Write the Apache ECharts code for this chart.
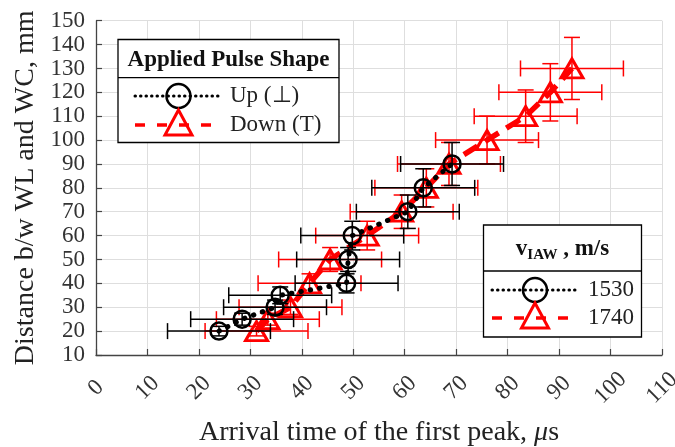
<!DOCTYPE html>
<html>
<head>
<meta charset="utf-8">
<script src="https://cdn.jsdelivr.net/npm/echarts@6/dist/echarts.min.js"></script>
<style>
  html, body { margin: 0; padding: 0; background: #fff; }
  #chart { width: 675px; height: 447px; }
</style>
</head>
<body>
<div id="chart"></div>
<script>
// Pulse applied "Up" (v = 1530 m/s)
const upDistance = [20, 25, 30, 35, 40, 50, 60, 70, 80, 90];
const upTime     = [23.9, 28.4, 34.8, 35.8, 48.7, 49.0, 49.8, 60.6, 63.6, 69.2];
const upTimeErr  = [10, 10, 10, 10, 10, 10, 10, 10, 10, 10];
const upDistErr  = [2, 2.5, 3, 3.5, 4, 5, 6, 7, 8, 9];

// Pulse applied "Down" (v = 1740 m/s)
const downDistance = [20, 25, 30, 40, 50, 60, 70, 80, 90, 100, 110, 120, 130];
const downTime     = [31.2, 33.4, 37.8, 41.5, 45.5, 52.7, 59.4, 64.2, 68.6, 76.0, 83.5, 88.3, 92.5];
const downTimeErr  = [10, 10, 10, 10, 10, 10, 10, 10, 10, 10, 10, 10, 10];
const downDistErr  = [2, 2.5, 3, 4, 5, 6, 7, 8, 9, 10, 11, 12, 13];

// Axis ticks
const xTicks = [0, 10, 20, 30, 40, 50, 60, 70, 80, 90, 100, 110];
const yTicks = [10, 20, 30, 40, 50, 60, 70, 80, 90, 100, 110, 120, 130, 140, 150];

const FONT = 'Liberation Serif';
const BLACK = '#000000';
const RED = '#ff0000';

function points(xs, ys) {
  return xs.map((x, i) => [x, ys[i]]);
}
function errRows(xs, ys, ex, ey) {
  return xs.map((x, i) => [x, ys[i], ex[i], ey[i]]);
}

// Cross-shaped error bars with end caps
function errorBarRenderer(color) {
  return function (params, api) {
    const x = api.value(0), y = api.value(1), ex = api.value(2), ey = api.value(3);
    const l = api.coord([x - ex, y]);
    const r = api.coord([x + ex, y]);
    const t = api.coord([x, y + ey]);
    const b = api.coord([x, y - ey]);
    const c = 8;
    const style = { stroke: color, lineWidth: 1.5, fill: null };
    const seg = (x1, y1, x2, y2) => ({ type: 'line', shape: { x1, y1, x2, y2 }, style });
    return {
      type: 'group',
      children: [
        seg(l[0], l[1], r[0], r[1]),
        seg(l[0], l[1] - c, l[0], l[1] + c),
        seg(r[0], r[1] - c, r[0], r[1] + c),
        seg(t[0], t[1], b[0], b[1]),
        seg(t[0] - c, t[1], t[0] + c, t[1]),
        seg(b[0] - c, b[1], b[0] + c, b[1])
      ]
    };
  };
}

// Boxed legend with a title row
function legendBox(opts) {
  const els = [];
  els.push({
    type: 'rect', shape: { x: opts.x, y: opts.y, width: opts.w, height: opts.h },
    style: { fill: '#fff', stroke: '#000', lineWidth: 1.3 }, z: 100
  });
  els.push({
    type: 'line', shape: { x1: opts.x, y1: opts.divY, x2: opts.x + opts.w, y2: opts.divY },
    style: { stroke: '#000', lineWidth: 1.3 }, z: 101
  });
  els.push({
    type: 'text', x: opts.x + opts.w / 2, y: (opts.y + opts.divY) / 2 + 1,
    style: Object.assign({
      align: 'center', verticalAlign: 'middle', fill: '#111',
      font: 'bold 23px "' + FONT + '"'
    }, opts.title), z: 102
  });
  opts.rows.forEach(row => {
    els.push({
      type: 'line', shape: { x1: opts.lx1, y1: row.y, x2: opts.lx2, y2: row.y },
      style: row.dotted
        ? { stroke: BLACK, lineWidth: 3, lineDash: [0.5, 5], lineCap: 'round' }
        : { stroke: RED, lineWidth: 3.5, lineDash: [10, 12] },
      z: 102
    });
    const cx = (opts.lx1 + opts.lx2) / 2;
    if (row.dotted) {
      els.push({
        type: 'circle', shape: { cx, cy: row.y, r: 12 },
        style: { fill: 'rgba(0,0,0,0)', stroke: BLACK, lineWidth: 2.5 }, z: 103
      });
    } else {
      els.push({
        type: 'polygon',
        shape: { points: [[cx, row.y - 15], [cx + 13.5, row.y + 10], [cx - 13.5, row.y + 10]] },
        style: { fill: 'rgba(0,0,0,0)', stroke: RED, lineWidth: 3 }, z: 103
      });
    }
    els.push({
      type: 'text', x: opts.tx, y: row.y,
      style: { text: row.text, align: 'left', verticalAlign: 'middle', fill: '#222',
               font: '23px "' + FONT + '"' },
      z: 103
    });
  });
  return els;
}

const graphics = [].concat(
  legendBox({
    x: 118, y: 39.5, w: 221, h: 103, divY: 77.7,
    title: { text: 'Applied Pulse Shape' },
    lx1: 135, lx2: 222, tx: 230,
    rows: [
      { y: 96, dotted: true, text: 'Up (\u22A5)' },
      { y: 125, dotted: false, text: 'Down (T)' }
    ]
  }),
  legendBox({
    x: 483.5, y: 225, w: 158, h: 112, divY: 271,
    title: {
      text: '{v|v}{s|IAW}{v| , m/s}',
      rich: {
        v: { font: 'bold 23px "' + FONT + '"', fill: '#111' },
        s: { font: 'bold 15px "' + FONT + '"', fill: '#111', padding: [12, 0, 0, 0] }
      }
    },
    lx1: 492, lx2: 578, tx: 588,
    rows: [
      { y: 290, dotted: true, text: '1530' },
      { y: 318, dotted: false, text: '1740' }
    ]
  })
);

const chart = echarts.init(document.getElementById('chart'), null, { renderer: 'canvas' });

chart.setOption({
  backgroundColor: '#fff',
  animation: false,
  grid: { left: 96, right: 13, top: 20.7, bottom: 92, containLabel: false, outerBoundsMode: 'none' },
  xAxis: {
    type: 'value',
    min: xTicks[0], max: xTicks[xTicks.length - 1], interval: 10,
    name: 'Arrival time of the first peak, {i|\u03BC}s',
    nameLocation: 'middle', nameGap: 64,
    nameTextStyle: {
      fontFamily: FONT, fontSize: 28, color: '#222',
      rich: { i: { fontFamily: FONT, fontSize: 28, fontStyle: 'italic', color: '#222' } }
    },
    axisLine: { show: true, lineStyle: { color: '#444', width: 1.3 } },
    axisTick: { show: true, inside: true, length: 6, lineStyle: { color: '#444', width: 1.2 } },
    axisLabel: {
      rotate: 45, align: 'center', verticalAlign: 'middle', margin: 33,
      fontFamily: FONT, fontSize: 23, color: '#333',
      showMinLabel: true, showMaxLabel: true,
      formatter: v => (xTicks.indexOf(v) >= 0 ? String(v) : '')
    },
    splitLine: { show: true, lineStyle: { color: '#dedede', width: 1 } }
  },
  yAxis: {
    type: 'value',
    min: yTicks[0], max: yTicks[yTicks.length - 1], interval: 10,
    name: 'Distance b/w WL and WC, mm',
    nameLocation: 'middle', nameGap: 56,
    nameTextStyle: { fontFamily: FONT, fontSize: 28, color: '#222' },
    axisLine: { show: true, lineStyle: { color: '#444', width: 1.3 } },
    axisTick: { show: true, inside: true, length: 6, lineStyle: { color: '#444', width: 1.2 } },
    axisLabel: {
      margin: 11, fontFamily: FONT, fontSize: 23, color: '#333',
      showMinLabel: true, showMaxLabel: true,
      formatter: v => (yTicks.indexOf(v) >= 0 ? String(v) : '')
    },
    splitLine: { show: true, lineStyle: { color: '#dedede', width: 1 } }
  },
  series: [
    {
      name: 'Down (T) error',
      type: 'custom',
      renderItem: errorBarRenderer(RED),
      data: errRows(downTime, downDistance, downTimeErr, downDistErr),
      encode: { x: 0, y: 1 },
      z: 2
    },
    {
      name: 'Down (T)',
      type: 'line',
      data: points(downTime, downDistance),
      symbol: 'triangle',
      symbolSize: [22, 19],
      itemStyle: { color: 'rgba(0,0,0,0)', borderColor: RED, borderWidth: 3 },
      lineStyle: { color: RED, width: 5.5, type: [16, 9] },
      z: 3
    },
    {
      name: 'Up error',
      type: 'custom',
      renderItem: errorBarRenderer(BLACK),
      data: errRows(upTime, upDistance, upTimeErr, upDistErr),
      encode: { x: 0, y: 1 },
      z: 4
    },
    {
      name: 'Up (\u22A5)',
      type: 'line',
      data: points(upTime, upDistance),
      symbol: 'circle',
      symbolSize: 17,
      itemStyle: { color: 'rgba(0,0,0,0)', borderColor: BLACK, borderWidth: 2.5 },
      lineStyle: { color: BLACK, width: 5, type: [0.5, 9], cap: 'round' },
      z: 5
    }
  ],
  graphic: graphics
});
</script>
</body>
</html>
